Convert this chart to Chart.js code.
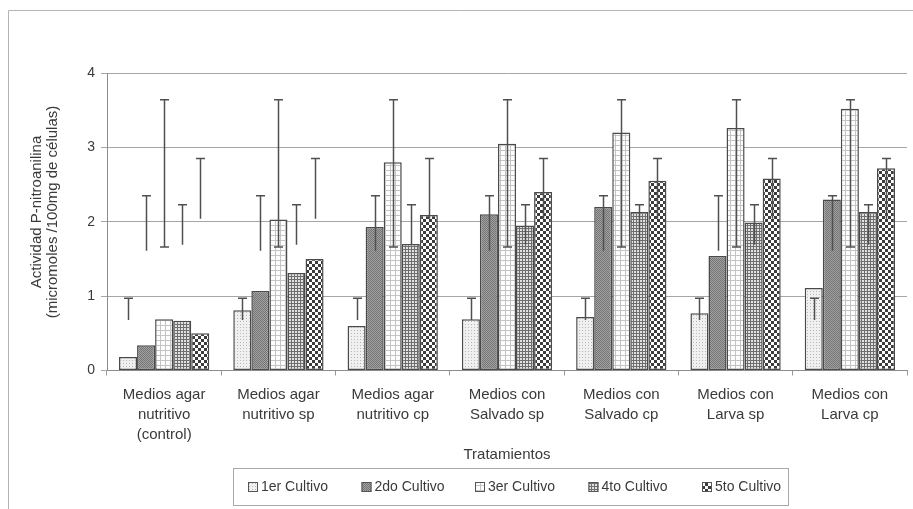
<!DOCTYPE html>
<html>
<head>
<meta charset="utf-8">
<script src="https://cdn.jsdelivr.net/npm/chart.js@4.4.0/dist/chart.umd.min.js"></script>
<style>
  html, body { margin: 0; padding: 0; background: #fff; }
</style>
</head>
<body>
<canvas id="myChart" width="913" height="509"></canvas>
<script>
var categories = [
    ['Medios agar', 'nutritivo', '(control)'],
    ['Medios agar', 'nutritivo sp'],
    ['Medios agar', 'nutritivo cp'],
    ['Medios con', 'Salvado sp'],
    ['Medios con', 'Salvado cp'],
    ['Medios con', 'Larva sp'],
    ['Medios con', 'Larva cp']
];
var seriesNames = ['1er Cultivo', '2do Cultivo', '3er Cultivo', '4to Cultivo', '5to Cultivo'];
var cultivo1 = [0.18, 0.81, 0.60, 0.69, 0.72, 0.77, 1.11];
var cultivo2 = [0.34, 1.07, 1.93, 2.10, 2.20, 1.54, 2.30];
var cultivo3 = [0.69, 2.03, 2.80, 3.05, 3.20, 3.26, 3.52];
var cultivo4 = [0.67, 1.31, 1.70, 1.95, 2.13, 1.99, 2.13];
var cultivo5 = [0.50, 1.50, 2.09, 2.40, 2.55, 2.58, 2.72];
// error bars (same range for every group of a series)
var errLow = [0.68, 1.61, 1.66, 1.69, 2.04];
var errHigh = [0.97, 2.35, 3.64, 2.23, 2.85];
var errLowCap = [false, false, true, false, false];
var yTicks = [0, 1, 2, 3, 4];

var FONT = "'Liberation Sans', Arial, sans-serif";
var TEXT = '#3a3a3a';

function makePattern(size, draw) {
    var c = document.createElement('canvas');
    c.width = size; c.height = size;
    var g = c.getContext('2d');
    draw(g);
    return document.getElementById('myChart').getContext('2d').createPattern(c, 'repeat');
}

var fills = [
    makePattern(3, function (g) {
        g.fillStyle = '#f0f0f0'; g.fillRect(0, 0, 3, 3);
        g.fillStyle = '#b8b8b8'; g.fillRect(0, 0, 1, 1);
    }),
    makePattern(2, function (g) {
        g.fillStyle = '#a2a2a2'; g.fillRect(0, 0, 2, 2);
        g.fillStyle = '#747474'; g.fillRect(0, 0, 1, 1); g.fillRect(1, 1, 1, 1);
    }),
    makePattern(5, function (g) {
        g.fillStyle = '#fdfdfd'; g.fillRect(0, 0, 5, 5);
        g.fillStyle = '#c4c4c4'; g.fillRect(0, 0, 5, 1); g.fillRect(0, 0, 1, 5);
    }),
    makePattern(3, function (g) {
        g.fillStyle = '#e2e2e2'; g.fillRect(0, 0, 3, 3);
        g.fillStyle = '#6e6e6e'; g.fillRect(0, 0, 3, 1); g.fillRect(0, 0, 1, 3);
    }),
    makePattern(6, function (g) {
        g.fillStyle = '#ffffff'; g.fillRect(0, 0, 6, 6);
        g.fillStyle = '#3c3c3c'; g.fillRect(0, 0, 3, 3); g.fillRect(3, 3, 3, 3);
    })
];

var seriesValues = [cultivo1, cultivo2, cultivo3, cultivo4, cultivo5];

var extras = {
    id: 'extras',
    beforeDraw: function (chart) {
        var ctx = chart.ctx;
        ctx.save();
        ctx.strokeStyle = '#b4b4b4';
        ctx.lineWidth = 1;
        ctx.beginPath();
        ctx.moveTo(8.5, 509);
        ctx.lineTo(8.5, 10.5);
        ctx.lineTo(913, 10.5);
        ctx.stroke();
        ctx.restore();
    },
    afterDatasetsDraw: function (chart) {
        var ctx = chart.ctx;
        var y = chart.scales.y;
        ctx.save();
        ctx.strokeStyle = '#505050';
        ctx.lineWidth = 1.5;
        chart.data.datasets.forEach(function (ds, i) {
            var meta = chart.getDatasetMeta(i);
            var yh = y.getPixelForValue(errHigh[i]);
            var yl = y.getPixelForValue(errLow[i]);
            meta.data.forEach(function (bar) {
                var x = Math.round(bar.x) + 0.5;
                ctx.beginPath();
                ctx.moveTo(x, yl);
                ctx.lineTo(x, yh);
                ctx.moveTo(x - 4.5, yh);
                ctx.lineTo(x + 4.5, yh);
                if (errLowCap[i]) {
                    ctx.moveTo(x - 4.5, yl);
                    ctx.lineTo(x + 4.5, yl);
                }
                ctx.stroke();
            });
        });
        ctx.restore();
    },
    afterDraw: function (chart) {
        var ctx = chart.ctx;
        ctx.save();
        // y axis title
        ctx.fillStyle = TEXT;
        ctx.font = '15px ' + FONT;
        ctx.textAlign = 'center';
        ctx.textBaseline = 'middle';
        ctx.translate(0, 212);
        ctx.rotate(-Math.PI / 2);
        ctx.fillText('Actividad P-nitroanilina', 0, 37);
        ctx.fillText('(micromoles /100mg de células)', 0, 53);
        ctx.restore();

        // legend
        ctx.save();
        ctx.strokeStyle = '#a8a8a8';
        ctx.lineWidth = 1;
        ctx.strokeRect(233.5, 468.5, 555, 37);
        ctx.font = '14px ' + FONT;
        ctx.textBaseline = 'middle';
        ctx.textAlign = 'left';
        seriesNames.forEach(function (name, i) {
            var x = 248 + i * 113.5;
            var cy = 487;
            ctx.fillStyle = fills[i];
            ctx.fillRect(x, cy - 5, 10, 10);
            ctx.strokeStyle = '#555';
            ctx.strokeRect(x + 0.5, cy - 4.5, 9, 9);
            ctx.fillStyle = TEXT;
            ctx.fillText(name, x + 13, cy);
        });
        ctx.restore();
    }
};

var ctx = document.getElementById('myChart').getContext('2d');
var myChart = new Chart(ctx, {
    type: 'bar',
    data: {
        labels: categories,
        datasets: seriesNames.map(function (name, i) {
            return {
                label: name,
                data: seriesValues[i],
                backgroundColor: fills[i],
                borderColor: '#4a4a4a',
                borderWidth: 1.5,
                borderSkipped: false,
                categoryPercentage: 0.79,
                barPercentage: 1.0
            };
        })
    },
    options: {
        responsive: false,
        animation: false,
        layout: {
            padding: { left: 8, right: 6, top: 73, bottom: 41.5 }
        },
        plugins: {
            legend: { display: false },
            tooltip: { enabled: false }
        },
        scales: {
            x: {
                grid: { display: true, drawOnChartArea: false, tickLength: 5, color: '#999' },
                border: { color: '#8c8c8c' },
                ticks: {
                    color: TEXT,
                    padding: 9.5,
                    maxRotation: 0,
                    autoSkip: false,
                    font: { family: FONT, size: 15, lineHeight: '20px' }
                },
                title: {
                    display: true,
                    text: 'Tratamientos',
                    color: TEXT,
                    padding: { top: 0, bottom: 3.5 },
                    font: { family: FONT, size: 15 }
                },
                afterFit: function (s) { s.height = 97; }
            },
            y: {
                min: 0,
                max: 4,
                afterBuildTicks: function (s) {
                    s.ticks = yTicks.map(function (v) { return { value: v }; });
                },
                grid: { color: '#a6a6a6', tickLength: 6 },
                border: { color: '#8c8c8c' },
                ticks: {
                    color: TEXT,
                    padding: 6,
                    font: { family: FONT, size: 14 }
                },
                afterFit: function (s) { s.width = 99; }
            }
        }
    },
    plugins: [extras]
});
</script>
</body>
</html>
